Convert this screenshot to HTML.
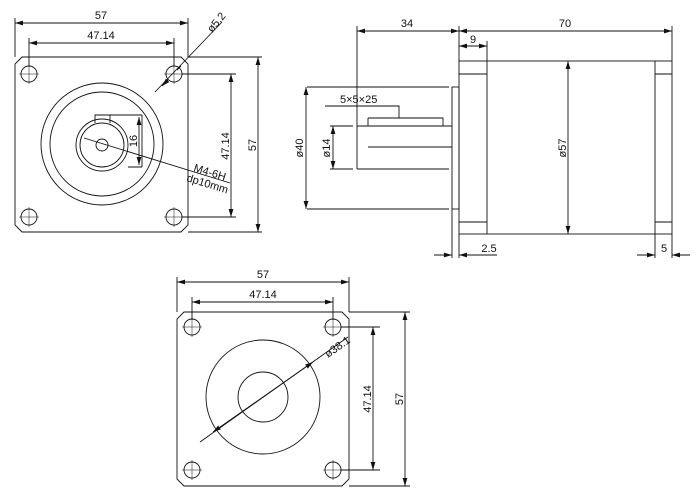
<!DOCTYPE html>
<html><head><style>html,body{margin:0;padding:0;background:#fff}svg{display:block}text{font-family:"Liberation Sans",sans-serif;font-size:11px;fill:#111}</style></head>
<body>
<svg width="700" height="500" viewBox="0 0 700 500" xmlns="http://www.w3.org/2000/svg">
<defs>
<marker id="a" viewBox="0 0 10 6" refX="10" refY="3" markerWidth="8" markerHeight="5" orient="auto-start-reverse" markerUnits="userSpaceOnUse"><path d="M0,0L10,3L0,6z" fill="#111"/></marker>
</defs>
<g stroke="#111" stroke-width="0.9" fill="none">
<!-- top-left view -->
<path d="M22,57H181L188,64V225L181,232H22L15,225V64Z"/>
<g>
<circle cx="29" cy="74" r="8"/><circle cx="174" cy="74" r="8"/><circle cx="29" cy="217" r="8"/><circle cx="174" cy="217" r="8"/>
<path d="M19,74h20M29,64v20M164,74h20M174,64v20M19,217h20M29,207v20M164,217h20M174,207v20" stroke-width="0.5"/>
</g>
<circle cx="102" cy="144" r="61"/><circle cx="102" cy="144" r="52"/>
<circle cx="102" cy="145" r="26"/><circle cx="102" cy="145" r="22"/><circle cx="102" cy="145" r="6"/>
<path d="M95,123V115H110V123M110,115H142M142,115V167M128,167H142"/>
<path d="M139,117V165" marker-start="url(#a)" marker-end="url(#a)"/>
<path d="M15,18V57M188,18V57M29,38V66M174,38V66"/>
<path d="M15,23H188" marker-start="url(#a)" marker-end="url(#a)"/>
<path d="M29,43H174" marker-start="url(#a)" marker-end="url(#a)"/>
<path d="M182,74H236M182,217H236M188,57H262M188,232H262"/>
<path d="M231,74V217" marker-start="url(#a)" marker-end="url(#a)"/>
<path d="M258,57V232" marker-start="url(#a)" marker-end="url(#a)"/>
<path d="M155,92L222,22"/><path d="M168,80L162,86" marker-end="url(#a)"/><path d="M177,70L181,66" />
<path d="M84,138L230,183"/>
<!-- side view -->
<rect x="459" y="61" width="213" height="173"/>
<path d="M487,61V234M655,61V234M459,74H487M459,222H487M655,74H672M655,222H672"/>
<rect x="452" y="87" width="7" height="122"/>
<path d="M357,126H452M357,169H449M357,126V169M368,118H443V126M368,118V126"/>
<path d="M368,147H452"/>
<path d="M325,106H399V118"/>
<path d="M307,87H449M307,209H449M330,126H353M330,169H353"/>
<path d="M306,87V209" marker-start="url(#a)" marker-end="url(#a)"/>
<path d="M333,126V169" marker-start="url(#a)" marker-end="url(#a)"/>
<path d="M357,26V126M459,26V61M672,26V61M487,41V61"/>
<path d="M357,31H459" marker-start="url(#a)" marker-end="url(#a)"/>
<path d="M459,31H672" marker-start="url(#a)" marker-end="url(#a)"/>
<path d="M459,46H487" marker-start="url(#a)" marker-end="url(#a)"/>
<path d="M568,61V234" marker-start="url(#a)" marker-end="url(#a)"/>
<path d="M452,209V258M459,234V258M655,234V258M672,234V258"/>
<path d="M434,255H452" marker-end="url(#a)"/><path d="M497,255H459" marker-end="url(#a)"/>
<path d="M637,255H655" marker-end="url(#a)"/><path d="M690,255H672" marker-end="url(#a)"/>
<!-- bottom view -->
<path d="M184,312H342L349,319V479L342,486H184L177,479V319Z"/>
<circle cx="192" cy="327" r="8"/><circle cx="333" cy="327" r="8"/><circle cx="192" cy="470" r="8"/><circle cx="333" cy="470" r="8"/>
<path d="M182,327h20M192,317v20M323,327h20M333,317v20M182,470h20M192,460v20M323,470h20M333,460v20" stroke-width="0.5"/>
<circle cx="263" cy="397" r="57"/><circle cx="263" cy="397" r="25"/>
<path d="M200,442L348,337"/>
<path d="M263,397L213,432" marker-end="url(#a)"/><path d="M263,397L313,362" marker-end="url(#a)"/>
<path d="M177,277V312M349,277V312M192,297V320M333,297V320"/>
<path d="M177,282H349" marker-start="url(#a)" marker-end="url(#a)"/>
<path d="M192,302H333" marker-start="url(#a)" marker-end="url(#a)"/>
<path d="M341,327H380M341,470H380M349,312H410M349,486H410"/>
<path d="M373,327V470" marker-start="url(#a)" marker-end="url(#a)"/>
<path d="M405,312V486" marker-start="url(#a)" marker-end="url(#a)"/>
</g>
<!-- text -->
<text x="101" y="19" text-anchor="middle">57</text>
<text x="101" y="39" text-anchor="middle">47.14</text>
<text transform="translate(212,33) rotate(-50)">ø5.2</text>
<text transform="translate(137,141) rotate(-90)" text-anchor="middle">16</text>
<text transform="translate(193,171) rotate(17)" font-size="10">M4-6H</text>
<text transform="translate(186,181) rotate(17)" font-size="10">dp10mm</text>
<text transform="translate(229,146) rotate(-90)" text-anchor="middle">47.14</text>
<text transform="translate(256,145) rotate(-90)" text-anchor="middle">57</text>
<text x="407" y="27" text-anchor="middle">34</text>
<text x="565" y="27" text-anchor="middle">70</text>
<text x="473" y="43" text-anchor="middle">9</text>
<text x="340" y="103" font-size="10">5×5×25</text>
<text transform="translate(303,148) rotate(-90)" text-anchor="middle">ø40</text>
<text transform="translate(330,148) rotate(-90)" text-anchor="middle">ø14</text>
<text transform="translate(566,148) rotate(-90)" text-anchor="middle">ø57</text>
<text x="489" y="252" text-anchor="middle">2.5</text>
<text x="664" y="252" text-anchor="middle">5</text>
<text x="263" y="278" text-anchor="middle">57</text>
<text x="263" y="298" text-anchor="middle">47.14</text>
<text transform="translate(328,358) rotate(-35)">ø38.1</text>
<text transform="translate(371,399) rotate(-90)" text-anchor="middle">47.14</text>
<text transform="translate(403,399) rotate(-90)" text-anchor="middle">57</text>
</svg>
</body></html>
